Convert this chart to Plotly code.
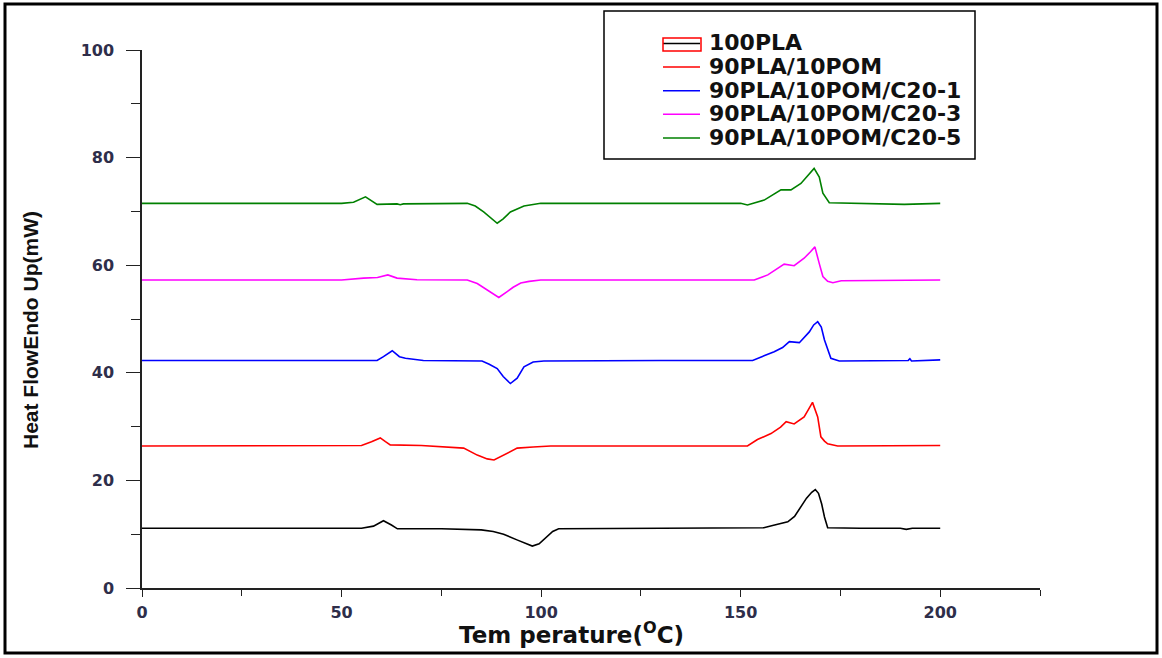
import plotly.graph_objects as go

# ---------------- data ----------------
series_names = ["100PLA", "90PLA/10POM", "90PLA/10POM/C20-1", "90PLA/10POM/C20-3", "90PLA/10POM/C20-5"]
series_colors = ["#000000", "#ff0000", "#0000ff", "#ff00ff", "#008000"]

pla_x = [0, 55, 58, 60.5, 62.5, 64, 75, 85, 88, 90.6, 94.1, 96, 97.8, 99.5, 100.6, 102.9, 104.4, 130, 150,
         155.8, 158, 161.8, 163.5, 165, 166.5, 167.8, 168.7, 169.5, 170.3, 171.0, 171.8, 180, 190, 191.5, 193, 200]
pla_y = [11.1, 11.1, 11.5, 12.5, 11.7, 11.0, 11.0, 10.8, 10.5, 10.0, 8.9, 8.3, 7.8, 8.2, 8.9, 10.5, 11.0, 11.1, 11.1,
         11.2, 11.6, 12.3, 13.3, 15.0, 16.7, 17.8, 18.3, 17.6, 15.6, 13.2, 11.2, 11.1, 11.1, 10.9, 11.1, 11.1]

pom_x = [0, 53, 55, 57.5, 59.7, 61, 62.2, 70, 76, 80.6, 84, 86.5, 88.2, 90.7, 92.5, 94, 98, 102.4, 130,
         151.7, 154.2, 157.6, 160, 161.4, 163.4, 165.9, 167, 168, 169.3, 170.1, 171, 171.8, 174.3, 200]
pom_y = [26.4, 26.4, 26.5, 27.2, 27.9, 27.2, 26.6, 26.5, 26.2, 26.0, 24.7, 24.0, 23.8, 24.7, 25.4, 26.0, 26.2, 26.4, 26.4,
         26.4, 27.6, 28.7, 29.9, 30.9, 30.5, 31.8, 33.2, 34.5, 31.8, 28.1, 27.3, 26.8, 26.4, 26.5]

c1_x = [0, 58.9, 60.5, 62.7, 64.5, 66, 70.5, 85.2, 87, 89, 90.5, 92.3, 94, 95.7, 98, 100.7, 130,
        153, 156, 158.4, 160.5, 162.2, 164.7, 167.2, 168.3, 169.3, 170.2, 171, 172.6, 174.7, 192, 192.4, 192.8, 200]
c1_y = [42.3, 42.3, 43.0, 44.1, 43.0, 42.7, 42.3, 42.2, 41.6, 40.8, 39.3, 38.0, 39.0, 41.1, 42.0, 42.2, 42.3,
        42.3, 43.2, 43.9, 44.7, 45.8, 45.6, 47.6, 48.9, 49.5, 48.5, 46.1, 42.7, 42.2, 42.3, 42.6, 42.2, 42.4]

c3_x = [0, 50, 55.5, 59, 61.6, 63.9, 68.9, 81.5, 84, 86.5, 89.4, 91.5, 93, 94.9, 97, 99.9, 130,
        153.4, 156.8, 160.9, 163.4, 165.9, 167.5, 168.6, 169.7, 170.6, 171.8, 173.1, 175.2, 185, 200]
c3_y = [57.25, 57.25, 57.6, 57.7, 58.2, 57.6, 57.3, 57.25, 56.6, 55.4, 54.0, 55.1, 55.9, 56.7, 57.0, 57.25, 57.25,
        57.25, 58.2, 60.2, 59.9, 61.3, 62.5, 63.4, 60.3, 57.9, 57.0, 56.75, 57.1, 57.2, 57.25]

c5_x = [0, 50, 53, 56, 58.9, 63.9, 64.7, 65.5, 81.5, 83.5, 85.6, 87.5, 89, 90.5, 92.3, 95.7, 99.9, 130, 150,
        151.7, 155.9, 160.1, 162.6, 165.1, 167, 168.4, 169.7, 170.6, 172.2, 180, 190, 191, 200]
c5_y = [71.5, 71.5, 71.7, 72.7, 71.3, 71.4, 71.25, 71.4, 71.5, 71.0, 69.9, 68.7, 67.8, 68.6, 69.9, 71.0, 71.5, 71.5, 71.5,
        71.2, 72.1, 74.0, 74.0, 75.2, 76.8, 78.0, 76.4, 73.4, 71.6, 71.5, 71.4, 71.3, 71.5]

series_x = [pla_x, pom_x, c1_x, c3_x, c5_x]
series_y = [pla_y, pom_y, c1_y, c3_y, c5_y]

x_tickvals = [0, 50, 100, 150, 200]
y_tickvals = [0, 20, 40, 60, 80, 100]
x_title = "Tem perature(<sup>O</sup>C)"
y_title = "Heat FlowEndo Up(mW)"

# ---------------- layout helpers (pixel -> paper) ----------------
L, R, T, B = 142, 1040, 50, 588
def px(xp):
    return (xp - L) / (R - L)
def py(yp):
    return (B - yp) / (B - T)

fig = go.Figure()
for name, color, xs, ys in zip(series_names, series_colors, series_x, series_y):
    fig.add_trace(go.Scatter(x=xs, y=ys, mode="lines", name=name,
                             line=dict(color=color, width=1.6), showlegend=False))

shapes = []
annotations = []

# outer frame
shapes.append(dict(type="rect", xref="paper", yref="paper", x0=px(5), x1=px(1157), y0=py(653), y1=py(4),
                   line=dict(color="black", width=3), fillcolor="rgba(0,0,0,0)", layer="above"))
# legend box
shapes.append(dict(type="rect", xref="paper", yref="paper", x0=px(604), x1=px(975), y0=py(159), y1=py(11),
                   line=dict(color="black", width=1.5), fillcolor="white", layer="above"))
row_y = [42, 65.6, 89.2, 112.8, 136.4]
for name, color, yc in zip(series_names, series_colors, row_y):
    shapes.append(dict(type="line", xref="paper", yref="paper", x0=px(663), x1=px(700), y0=py(yc + 1.5), y1=py(yc + 1.5),
                       line=dict(color=color, width=1.5), layer="above"))
    annotations.append(dict(text="<b>%s</b>" % name, xref="paper", yref="paper", x=px(707), y=py(yc + 1),
                            xanchor="left", yanchor="middle", showarrow=False,
                            font=dict(family="DejaVu Sans", size=22, color="#111111")))
# red box around first legend symbol
shapes.append(dict(type="rect", xref="paper", yref="paper", x0=px(663), x1=px(701), y0=py(51), y1=py(38),
                   line=dict(color="#ff0000", width=1.5), fillcolor="rgba(0,0,0,0)", layer="above"))

# axis titles
annotations.append(dict(text="<b>%s</b>" % x_title, xref="paper", yref="paper", x=px(571), y=py(633),
                        xanchor="center", yanchor="middle", showarrow=False,
                        font=dict(family="DejaVu Sans", size=23, color="#111111")))
annotations.append(dict(text="<b>%s</b>" % y_title, xref="paper", yref="paper", x=px(30), y=py(330),
                        xanchor="center", yanchor="middle", showarrow=False, textangle=-90,
                        font=dict(family="Liberation Sans", size=21, color="#111111")))

tick_font = dict(family="DejaVu Sans", size=16, color="#2e2e4a", weight="bold")

fig.update_layout(
    width=1162, height=658,
    margin=dict(l=L, r=1162 - R, t=T, b=658 - B, pad=0),
    paper_bgcolor="white", plot_bgcolor="white",
    showlegend=False,
    shapes=shapes, annotations=annotations,
    xaxis=dict(range=[0, 225], tickvals=x_tickvals, ticktext=[str(v) for v in x_tickvals],
               showgrid=False, zeroline=False, showline=True, linecolor="#222222", linewidth=1.5,
               ticks="outside", ticklen=7, tickwidth=1.2, tickcolor="#222222",
               minor=dict(dtick=25, tick0=0, ticks="outside", ticklen=6, tickwidth=1.2, tickcolor="#222222"),
               tickfont=tick_font, ticklabelstandoff=2),
    yaxis=dict(range=[0, 100], tickvals=y_tickvals, ticktext=[str(v) for v in y_tickvals],
               showgrid=False, zeroline=False, showline=True, linecolor="#222222", linewidth=1.5,
               ticks="outside", ticklen=14, tickwidth=1.2, tickcolor="#222222",
               minor=dict(dtick=10, tick0=0, ticks="outside", ticklen=9, tickwidth=1.2, tickcolor="#222222"),
               tickfont=tick_font, ticklabelstandoff=9),
)

fig.write_html("out.html")
